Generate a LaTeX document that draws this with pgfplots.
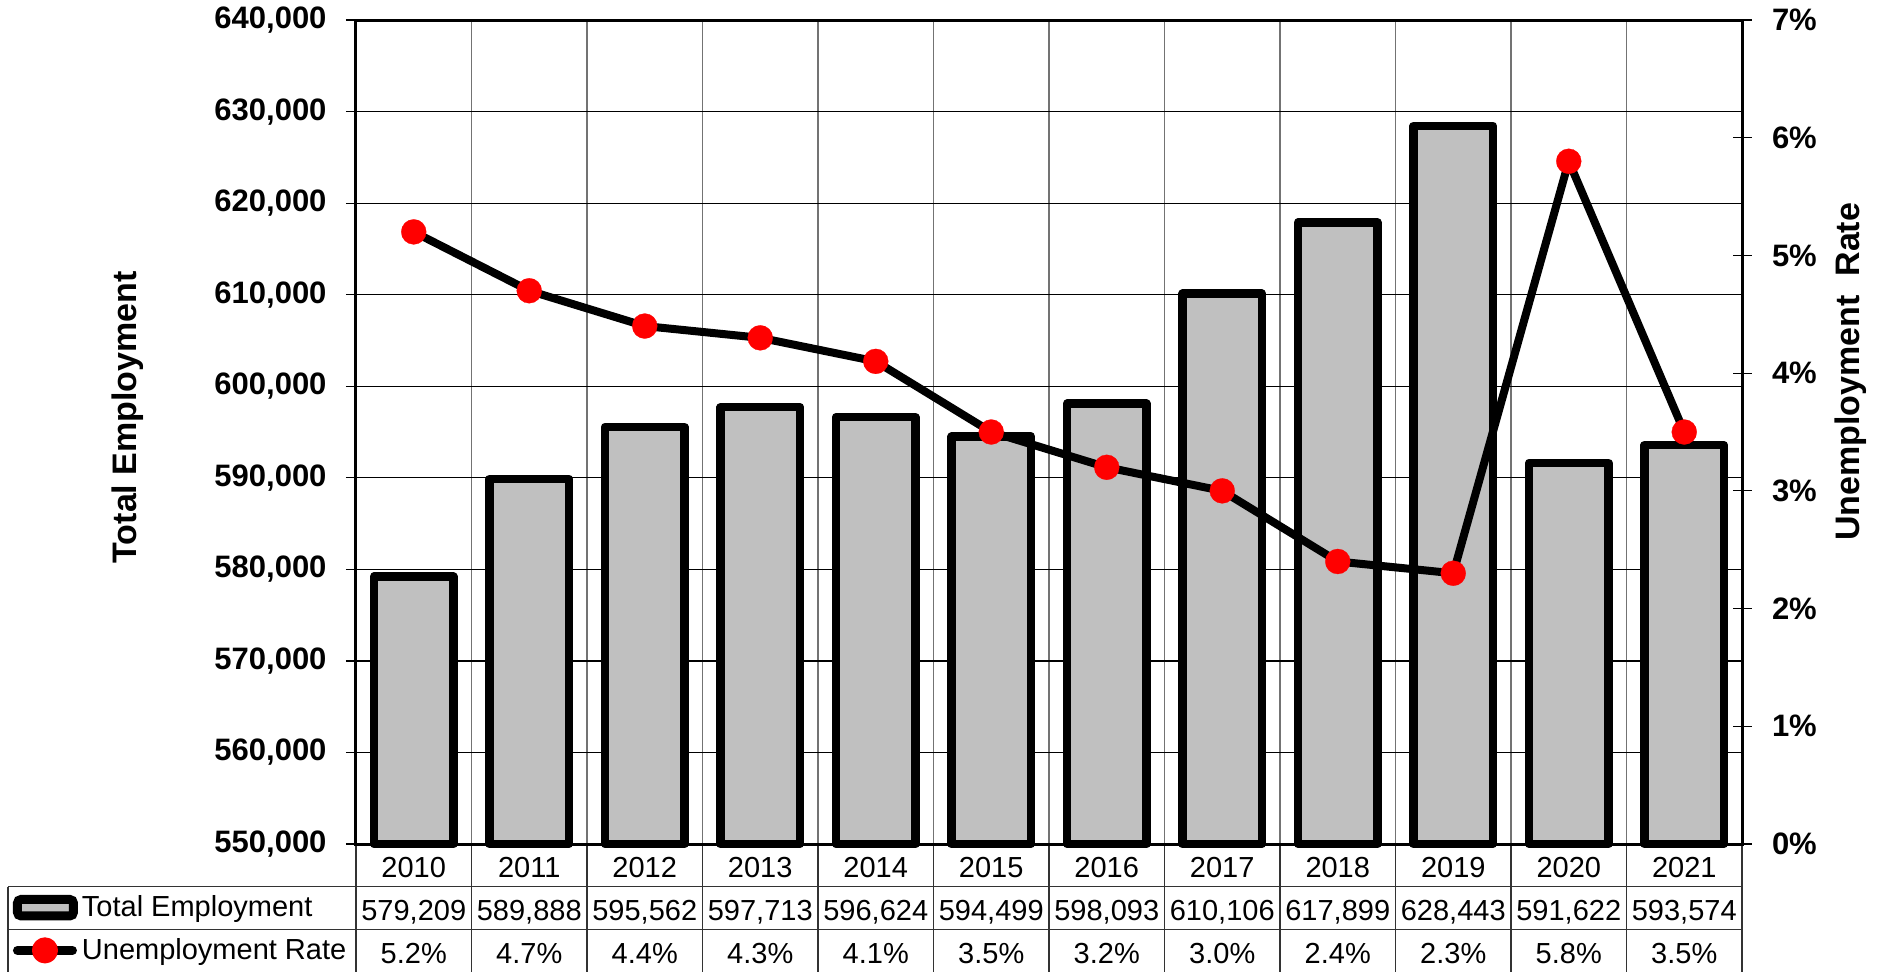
\documentclass[border=0pt]{standalone}
\usepackage{fontspec}
\setmainfont{Liberation Sans}
\usepackage{pgfplots}
\pgfplotsset{compat=1.18}
\usepackage{pgfplotstable}
\definecolor{barfill}{HTML}{C0C0C0}
\definecolor{dotred}{HTML}{FF0000}

% employment and unemployment rate by year
\pgfplotstableread{
year emp    rate
2010 579209 5.2
2011 589888 4.7
2012 595562 4.4
2013 597713 4.3
2014 596624 4.1
2015 594499 3.5
2016 598093 3.2
2017 610106 3.0
2018 617899 2.4
2019 628443 2.3
2020 591622 5.8
2021 593574 3.5
}\datatable

\begin{document}
\begin{tikzpicture}
\useasboundingbox (-142.4pt,-51.2pt) rectangle (610pt,337.6pt);
% data table grid and category separators
\draw[black!80, line width=0.5pt] (-139.2pt,-17.07pt) -- (554.4pt,-17.07pt)
  (-139.2pt,-34.13pt) -- (554.4pt,-34.13pt)
  (-139.2pt,-17.07pt) -- (-139.2pt,-51.2pt);
\foreach \k in {0,...,12} {\draw[black!80, line width=0.5pt] (\k*46.2pt,0pt) -- (\k*46.2pt,-51.2pt);}
\foreach \k in {1,...,11} {\draw[black!55, line width=0.5pt] (\k*46.2pt,329.6pt) -- (\k*46.2pt,0pt);}

\begin{axis}[
  at={(0pt,0pt)}, anchor=south west,
  scale only axis, width=554.4pt, height=329.6pt,
  xmin=-0.5, xmax=11.5, ymin=0, ymax=90000,
  ytick={0,10000,...,90000},
  yticklabels={{550,000},{560,000},{570,000},{580,000},{590,000},{600,000},{610,000},{620,000},{630,000},{640,000}},
  ytick pos=left, tick align=outside, major tick length=4pt,
  y tick style={black, line width=0.5pt},
  yticklabel style={font=\bfseries\fontsize{12.4pt}{14pt}\selectfont, inner sep=0pt, xshift=-7.6pt},
  xtick={0,...,11}, x tick style={draw=none},
  xticklabels={{2010\\579,209\\5.2\%},{2011\\589,888\\4.7\%},{2012\\595,562\\4.4\%},{2013\\597,713\\4.3\%},{2014\\596,624\\4.1\%},{2015\\594,499\\3.5\%},{2016\\598,093\\3.2\%},{2017\\610,106\\3.0\%},{2018\\617,899\\2.4\%},{2019\\628,443\\2.3\%},{2020\\591,622\\5.8\%},{2021\\593,574\\3.5\%}},
  xticklabel style={font=\fontsize{11.6pt}{17.2pt}\selectfont, align=center, anchor=north, inner sep=0pt, yshift=-1.2pt},
  ymajorgrids, grid style={black, line width=0.5pt},
  axis line style={black, line width=1.2pt},
  ylabel={Total Employment},
  every axis y label/.style={at={(axis description cs:-0.1645,0.518)}, rotate=90, anchor=center, font=\bfseries\fontsize{13.6pt}{16pt}\selectfont},
  clip=false,
]
\addplot[ybar, bar width=31.7pt, fill=barfill, draw=black, line width=3.4pt, line join=round]
  table[x expr=\coordindex, y expr=\thisrow{emp}-550000] {\datatable};
\end{axis}

\begin{axis}[
  at={(0pt,0pt)}, anchor=south west,
  scale only axis, width=554.4pt, height=329.6pt,
  xmin=-0.5, xmax=11.5, ymin=0, ymax=7,
  axis y line*=right, axis x line=none,
  ytick={0,...,7},
  yticklabel={\pgfmathprintnumber{\tick}\%},
  /pgf/number format/assume math mode=true,
  tick align=center, major tick length=7.6pt,
  y tick style={black, line width=0.5pt},
  yticklabel style={font=\bfseries\fontsize{12.4pt}{14pt}\selectfont, inner sep=0pt, anchor=west, xshift=8pt},
  axis line style={black, line width=1.2pt},
  ylabel={Unemployment\ \ Rate},
  every axis y label/.style={at={(axis description cs:1.0786,0.573)}, rotate=90, anchor=center, font=\bfseries\fontsize{13.6pt}{16pt}\selectfont},
  legend style={at={(axis description cs:-0.2475,-0.1032)}, anchor=west, draw=none, fill=none,
    inner sep=0pt, outer sep=0pt, row sep=0pt, column sep=0pt,
    font=\fontsize{11.6pt}{13pt}\selectfont,
    nodes={minimum height=17.07pt, inner ysep=0pt, inner xsep=1.6pt}},
  legend cell align=left,
  clip=false,
]
\addlegendimage{legend image code/.code={\draw[fill=barfill, draw=black, line width=3.6pt, rounded corners=1.5pt] (1.8pt,-3.3pt) rectangle (24.2pt,3.3pt);}}
\addlegendentry{Total Employment}
\addplot[black, line width=3.2pt, line join=round, mark=*, mark size=5pt, mark options={fill=dotred, draw=dotred, line width=0.1pt},
  legend image code/.code={\draw[black, line width=3.6pt, line cap=round] (1.8pt,0pt) -- (23.8pt,0pt); \fill[dotred] (12.8pt,0pt) circle (3.6pt);}]
  table[x expr=\coordindex, y=rate] {\datatable};
\addlegendentry{Unemployment Rate}
\end{axis}
\end{tikzpicture}
\end{document}
